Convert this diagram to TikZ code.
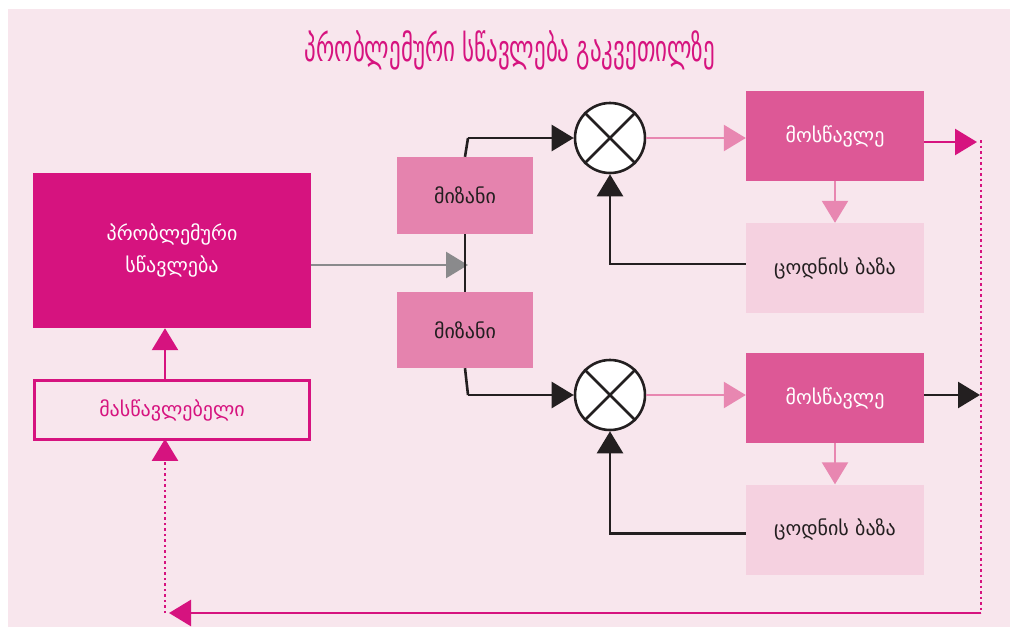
\documentclass[tikz,border=0pt]{standalone}
\usepackage{fontspec}
\setmainfont{DejaVu Sans}
\usetikzlibrary{arrows.meta}
\definecolor{cBg}{HTML}{F8E6ED}
\definecolor{cMag}{HTML}{D6137F}
\definecolor{cMiz}{HTML}{E583AE}
\definecolor{cMos}{HTML}{DD5896}
\definecolor{cCod}{HTML}{F5D1E0}
\definecolor{cPk}{HTML}{E887B1}
\definecolor{cGr}{HTML}{8A8A8C}
\definecolor{cBlk}{HTML}{231F20}
\newcommand\bodyfs{\fontsize{20}{32}\selectfont}
\newcommand\mytitle{%
  \iffontchar\font"1C9E
    \resizebox{410pt}{31pt}{ᲞᲠᲝᲑᲚᲔᲛᲣᲠᲘ ᲡᲬᲐᲕᲚᲔᲑᲐ ᲒᲐᲙᲕᲔᲗᲘᲚᲖᲔ}%
  \else
    \scalebox{1}[1.6]{\resizebox{410pt}{!}{პრობლემური სწავლება გაკვეთილზე}}%
  \fi}
\tikzset{
  arr/.style={-{Triangle[length=22pt,width=26pt]}},
  bx/.style={rectangle, inner sep=0pt, align=center, font=\bodyfs},
  blk/.style={draw=cBlk, line width=2.6pt},
  pk/.style={draw=cPk, line width=2.4pt},
  mg/.style={draw=cMag, line width=2.6pt},
  dotl/.style={draw=cMag, line width=2.5pt, dash pattern=on 2.5pt off 3pt},
  cross/.style={circle, draw=cBlk, line width=2.6pt, fill=white, minimum size=70pt, inner sep=0pt},
}
\begin{document}
\begin{tikzpicture}[x=1pt,y=-1pt]
\useasboundingbox (0,0) rectangle (1014,627);
\fill[cBg] (8,9) rectangle (1010,627);

\node[text=cMag, inner sep=0pt] (title) at (510,50) {\mytitle};

\node[bx, fill=cMag, text=white, minimum width=278pt, minimum height=155pt] (prob) at (172,250.5) {პრობლემური\\სწავლება};
\node[bx, draw=cMag, line width=2.8pt, fill=cBg, text=cMag, minimum width=275pt, minimum height=59pt] (teach) at (172,410) {მასწავლებელი};

\node[bx, fill=cMiz, text=cBlk, minimum width=136pt, minimum height=77pt] (miz1) at (465,195.5) {მიზანი};
\node[bx, fill=cMiz, text=cBlk, minimum width=136pt, minimum height=76pt] (miz2) at (465,330) {მიზანი};

\node[cross] (c1) at (610,138) {};
\node[cross] (c2) at (610,395) {};
\draw[blk] (c1.north west) -- (c1.south east) (c1.north east) -- (c1.south west);
\draw[blk] (c2.north west) -- (c2.south east) (c2.north east) -- (c2.south west);

\node[bx, fill=cMos, text=white, minimum width=178pt, minimum height=90pt] (mos1) at (835,136) {მოსწავლე};
\node[bx, fill=cCod, text=cBlk, minimum width=178pt, minimum height=90pt] (cod1) at (835,268) {ცოდნის ბაზა};
\node[bx, fill=cMos, text=white, minimum width=178pt, minimum height=90pt] (mos2) at (835,398) {მოსწავლე};
\node[bx, fill=cCod, text=cBlk, minimum width=178pt, minimum height=90pt] (cod2) at (835,529.5) {ცოდნის ბაზა};

\coordinate (jt) at (468,138);
\coordinate (jm) at (468,265);
\coordinate (jb) at (468,395);
\coordinate (o1) at (977,142);
\coordinate (o2) at (980,395);
\coordinate (dt) at (981,140);
\coordinate (db) at (981,613);
\coordinate (bl) at (165,613);

% grey input
\draw[draw=cGr, line width=2.6pt, -{Triangle[length=22pt,width=26pt,fill=cGr]}] (prob.east |- jm) -- (jm);
% junction
\draw[blk] (jt) -- (miz1.north);
\draw[blk] (miz1.south) -- (miz2.north);
\draw[blk] (miz2.south) -- (jb);
\draw[blk, arr] (jt) -- (c1.west);
\draw[blk, arr] (jb) -- (c2.west);
% to students
\draw[pk, arr] (c1.east) -- (c1.east -| mos1.west);
\draw[pk, arr] (c2.east) -- (c2.east -| mos2.west);
\draw[pk, arr] (mos1.south) -- (cod1.north);
\draw[pk, arr] (mos2.south) -- (cod2.north);
% feedback
\draw[blk, arr] ([yshift=4pt]cod1.west) -- ([yshift=4pt]cod1.west -| c1) -- (c1.south);
\draw[blk, arr] ([yshift=-4pt]cod2.west) -- ([yshift=-4pt]cod2.west -| c2) -- (c2.south);
% outputs
\draw[mg, arr] (mos1.east |- o1) -- (o1);
\draw[blk, arr] (mos2.east |- o2) -- (o2);
% loop back
\draw[dotl] (dt) -- (db);
\draw[mg, arr, shorten >=4pt] (db) -- (bl);
\draw[dotl, arr] (bl) -- ([yshift=2pt]bl |- teach.south);
\draw[mg, arr] (bl |- teach.north) -- (bl |- prob.south);
\end{tikzpicture}
\end{document}
